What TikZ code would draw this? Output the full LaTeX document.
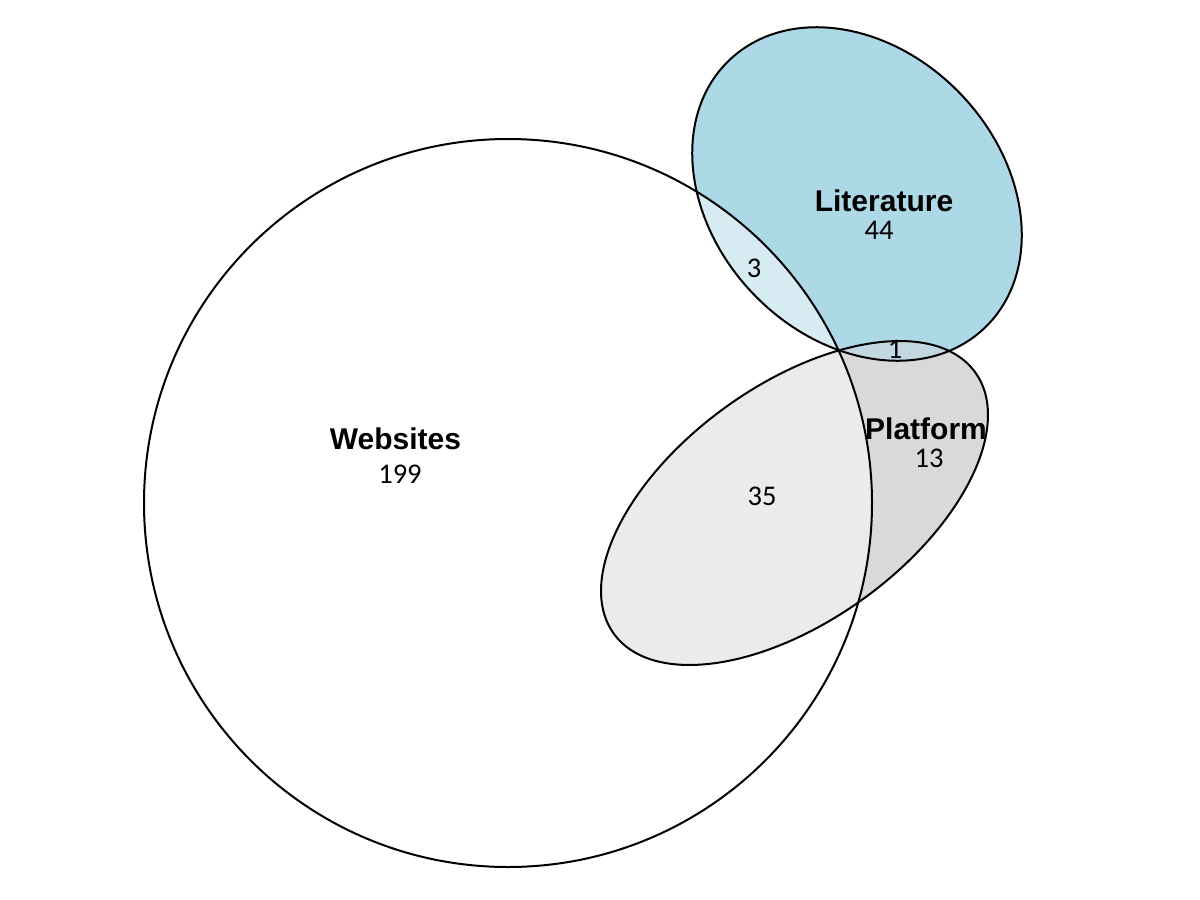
\documentclass[tikz,border=0pt]{standalone}
\usepackage{fontspec}
\setmainfont{Carlito}
\newfontfamily\labfont{Liberation Sans}
\definecolor{litblue}{RGB}{173,216,230}
\definecolor{wlcol}{RGB}{214,235,242}
\definecolor{platgray}{RGB}{217,217,217}
\definecolor{wpcol}{RGB}{235,235,235}
\definecolor{lpcol}{RGB}{194,216,224}
\newcommand{\WebShape}{(508,503) circle [radius=364pt]}
\newcommand{\LitShape}{(857,194) ellipse [x radius=185pt, y radius=144pt]}
\newcommand{\PlatShape}{(794.5,503) ellipse [x radius=223pt, y radius=118pt]}
\begin{document}
\begin{tikzpicture}[x=1pt,y=-1pt,
  litT/.style={rotate around={-46.4:(857,194)}},
  platT/.style={rotate around={35.9:(794.5,503)}},
  outline/.style={draw=black,line width=2pt},
  setlabel/.style={font=\labfont\bfseries\fontsize{30}{31}\selectfont,anchor=base,inner sep=0pt},
  count/.style={font=\fontsize{28.5}{29}\selectfont,anchor=base,inner sep=0pt}]
\fill[white] (0,0) rectangle (1200,900);
\useasboundingbox (0,0) rectangle (1200,900);
% region fills
\fill[litblue,litT] \LitShape;
\fill[platgray,platT] \PlatShape;
\begin{scope}
  \clip[litT] \LitShape;
  \fill[lpcol,platT] \PlatShape;
\end{scope}
\begin{scope}
  \clip \WebShape;
  \fill[wlcol,litT] \LitShape;
  \fill[wpcol,platT] \PlatShape;
\end{scope}
% outlines
\draw[outline] \WebShape;
\draw[outline,litT] \LitShape;
\draw[outline,platT] \PlatShape;
% labels
\node[setlabel] (weblab) at (395.5,449) {Websites};
\node[count] (webnum) at (400,483) {199};
\node[setlabel] (litlab) at (884,211) {Literature};
\node[count] (litnum) at (879,239) {44};
\node[setlabel] (platlab) at (926,439) {Platform};
\node[count] (platnum) at (929,467) {13};
\node[count] (wl) at (754,277) {3};
\node[count] (wp) at (762,505) {35};
\node[count] (lp) at (895,358) {1};
\end{tikzpicture}
\end{document}
